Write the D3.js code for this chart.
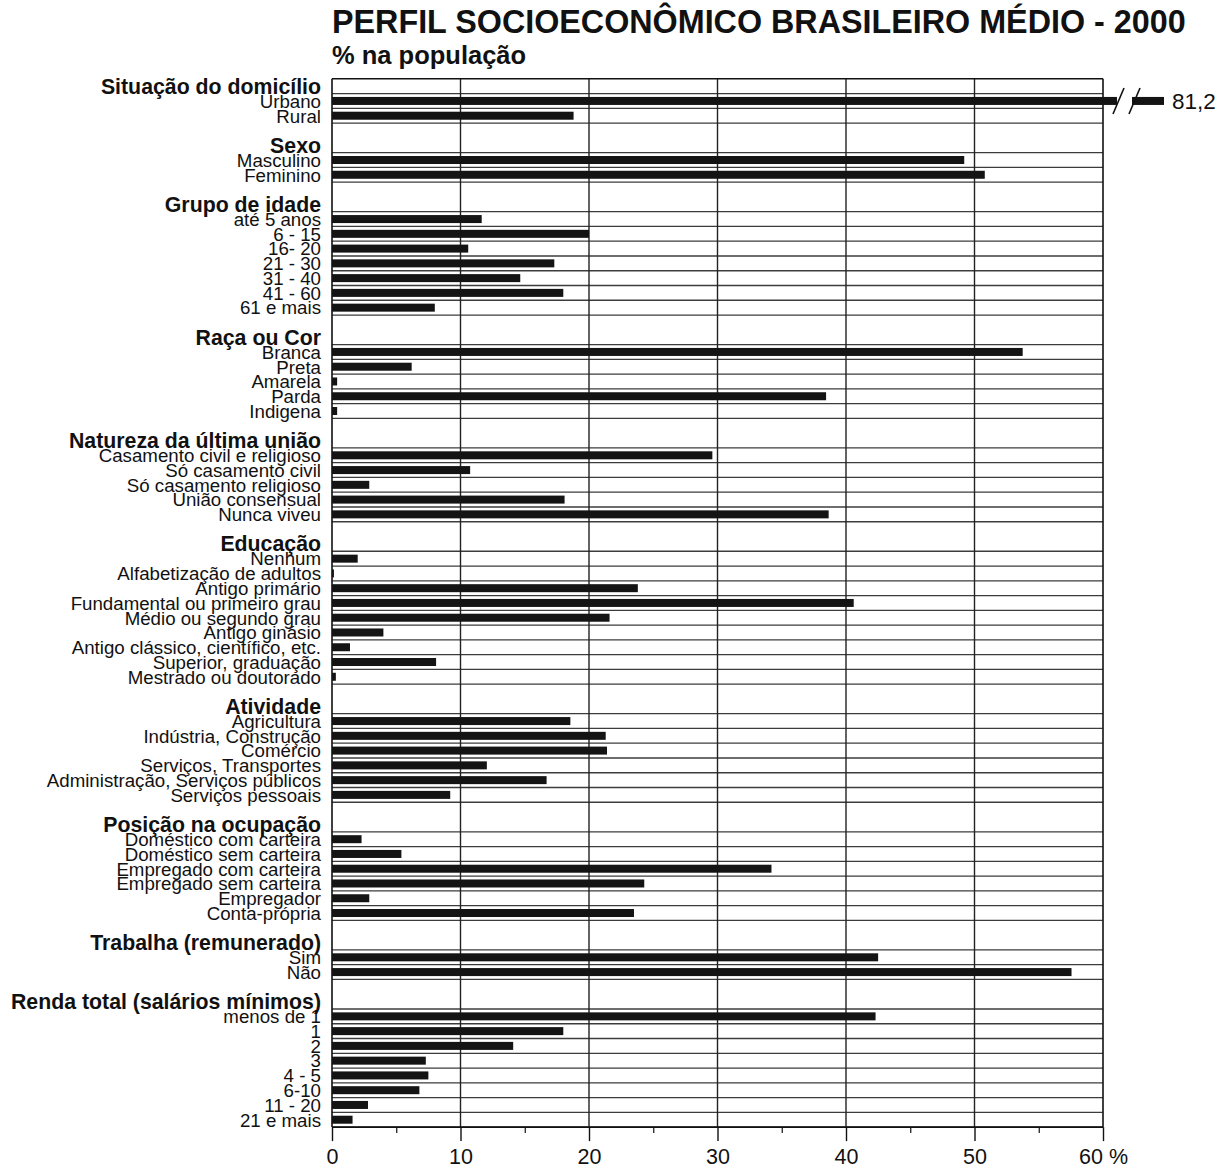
<!DOCTYPE html>
<html><head><meta charset="utf-8">
<script src="https://cdn.jsdelivr.net/npm/d3@7"></script>
<style>
body{margin:0;background:#fff;}
svg text{font-family:"Liberation Sans",Arial,Helvetica,sans-serif;fill:#111;}
</style></head>
<body><svg id="c" width="1231" height="1171"></svg>
<script>
// ---- data ----
const groupTitles = ["Situação do domicílio","Sexo","Grupo de idade","Raça ou Cor","Natureza da última união","Educação","Atividade","Posição na ocupação","Trabalha (remunerado)","Renda total (salários mínimos)"];
const situacaoCats = ["Urbano","Rural"];
const situacaoVals = [81.2, 18.8];
const sexoCats = ["Masculino","Feminino"];
const sexoVals = [49.2, 50.8];
const idadeCats = ["até 5 anos","6 - 15","16- 20","21 - 30","31 - 40","41 - 60","61 e mais"];
const idadeVals = [11.65, 20.0, 10.6, 17.3, 14.65, 18.0, 8.0];
const racaCats = ["Branca","Preta","Amarela","Parda","Indigena"];
const racaVals = [53.75, 6.2, 0.4, 38.45, 0.4];
const uniaoCats = ["Casamento civil e religioso","Só casamento civil","Só casamento religioso","União consensual","Nunca viveu"];
const uniaoVals = [29.6, 10.75, 2.9, 18.1, 38.65];
const educCats = ["Nenhum","Alfabetização de adultos","Antigo primário","Fundamental ou primeiro grau","Médio ou segundo grau","Antigo ginásio","Antigo clássico, científico, etc.","Superior, graduação","Mestrado ou doutorado"];
const educVals = [2.0, 0.15, 23.8, 40.6, 21.6, 4.0, 1.4, 8.1, 0.3];
const ativCats = ["Agricultura","Indústria, Construção","Comércio","Serviços, Transportes","Administração, Serviços públicos","Serviços pessoais"];
const ativVals = [18.55, 21.3, 21.4, 12.05, 16.7, 9.2];
const posCats = ["Doméstico com carteira","Doméstico sem carteira","Empregado com carteira","Empregado sem carteira","Empregador","Conta-própria"];
const posVals = [2.3, 5.4, 34.2, 24.3, 2.9, 23.5];
const trabCats = ["Sim","Não"];
const trabVals = [42.5, 57.55];
const rendaCats = ["menos de 1","1","2","3","4 - 5","6-10","11 - 20","21 e mais"];
const rendaVals = [42.3, 18.0, 14.1, 7.3, 7.5, 6.8, 2.8, 1.6];
const xTicks = [0,10,20,30,40,50,60];
const xTickLabels = ["0","10","20","30","40","50","60 %"];
const xMinorTicks = [5,15,25,35,45,55];
const axisMax = 60;
const title = "PERFIL SOCIOECONÔMICO BRASILEIRO MÉDIO - 2000";
const subtitle = "% na população";

const groupCats = [situacaoCats,sexoCats,idadeCats,racaCats,uniaoCats,educCats,ativCats,posCats,trabCats,rendaCats];
const groupVals = [situacaoVals,sexoVals,idadeVals,racaVals,uniaoVals,educVals,ativVals,posVals,trabVals,rendaVals];

(function(){
const slots = [];
groupTitles.forEach((t,g)=>{
  if(g>0) slots.push({type:"blank", id:"b"+g});
  slots.push({type:"header", label:t, id:"h"+g, g});
  groupCats[g].forEach((c,i)=>slots.push({type:"item", label:c, value:groupVals[g][i], id:"i"+g+"_"+i, g, first:i===0}));
});

const svg = d3.select("#c");
const pL = 332, pR = 1103, pT = 78.8, pB = 1127.1;
const x = d3.scaleLinear().domain([0,axisMax]).range([pL,pR]);
const y = d3.scaleBand().domain(slots.map(s=>s.id)).range([pT,pB]).padding(0);
const bw = y.bandwidth();
const barH = 8;

svg.append("text").attr("x",pL).attr("y",33).style("font-weight","bold").style("font-size","32.3px").text(title);
svg.append("text").attr("x",pL).attr("y",64).style("font-weight","bold").style("font-size","25.5px").text(subtitle);

// horizontal row lines
const hl = [];
slots.forEach(s=>{
  if(s.type==="item"){
    if(s.first) hl.push(y(s.id));
    hl.push(y(s.id)+bw);
  }
});
svg.append("g").selectAll("line").data(hl).join("line")
  .attr("x1",pL).attr("x2",pR).attr("y1",d=>d).attr("y2",d=>d)
  .attr("stroke","#3c3c3c").attr("stroke-width",1.3);

// vertical gridlines
svg.append("g").selectAll("line").data(xTicks.filter(d=>d>0&&d<axisMax)).join("line")
  .attr("x1",d=>x(d)).attr("x2",d=>x(d)).attr("y1",pT).attr("y2",pB)
  .attr("stroke","#222").attr("stroke-width",1.4);

// frame
const fr = svg.append("g").attr("stroke","#111").attr("stroke-width",1.6);
fr.append("line").attr("x1",pL).attr("x2",pR).attr("y1",pT).attr("y2",pT);
fr.append("line").attr("x1",pL).attr("x2",pR).attr("y1",pB).attr("y2",pB);
fr.append("line").attr("x1",pL).attr("x2",pL).attr("y1",pT).attr("y2",pB);
fr.append("line").attr("x1",pR).attr("x2",pR).attr("y1",pT).attr("y2",pB);

// x axis
const ax = svg.append("g").attr("transform",`translate(0,${pB})`)
  .call(d3.axisBottom(x).tickValues(xTicks).tickSize(14).tickPadding(8).tickFormat((d,i)=>xTickLabels[i]));
ax.select(".domain").remove();
ax.selectAll(".tick line").attr("stroke","#111").attr("stroke-width",1.4);
ax.selectAll(".tick text").style("font-size","21.5px").attr("fill","#111").style("font-family",'"Liberation Sans",Arial,sans-serif');
const axm = svg.append("g").attr("transform",`translate(0,${pB})`)
  .call(d3.axisBottom(x).tickValues(xMinorTicks).tickSize(6).tickFormat(""));
axm.select(".domain").remove();
axm.selectAll(".tick line").attr("stroke","#111").attr("stroke-width",1.2);

// labels
const items = slots.filter(s=>s.type==="item");
const headers = slots.filter(s=>s.type==="header");
svg.append("g").selectAll("text").data(headers).join("text")
  .attr("x",321).attr("y",d=>y(d.id)+bw/2+7.5)
  .attr("text-anchor","end").style("font-weight","bold").style("font-size","21.3px")
  .text(d=>d.label);
svg.append("g").selectAll("text").data(items).join("text")
  .attr("x",321).attr("y",d=>y(d.id)+bw/2+6.8)
  .attr("text-anchor","end").style("font-size","18.7px")
  .text(d=>d.label);

// bars
const breakOver = 14;
const bars = svg.append("g");
items.forEach(d=>{
  const yc = y(d.id)+bw/2;
  if(d.value<=axisMax){
    bars.append("rect").attr("x",x(0)).attr("y",yc-barH/2).attr("width",x(d.value)-x(0)).attr("height",barH).attr("fill","#141414");
  } else {
    const xe = x(axisMax);
    bars.append("rect").attr("x",x(0)).attr("y",yc-barH/2).attr("width",xe+breakOver-x(0)).attr("height",barH).attr("fill","#141414");
    bars.append("rect").attr("x",xe+29).attr("y",yc-barH/2).attr("width",32).attr("height",barH).attr("fill","#141414");
    [0,16].forEach(o=>{
      bars.append("line").attr("x1",xe+10+o).attr("y1",yc+13).attr("x2",xe+21+o).attr("y2",yc-13)
        .attr("stroke","#111").attr("stroke-width",1.6);
    });
    svg.append("text").attr("x",xe+69).attr("y",yc+8).style("font-size","22.5px")
      .text(d3.format(".1f")(d.value).replace(".",","));
  }
});
})();
</script></body></html>
